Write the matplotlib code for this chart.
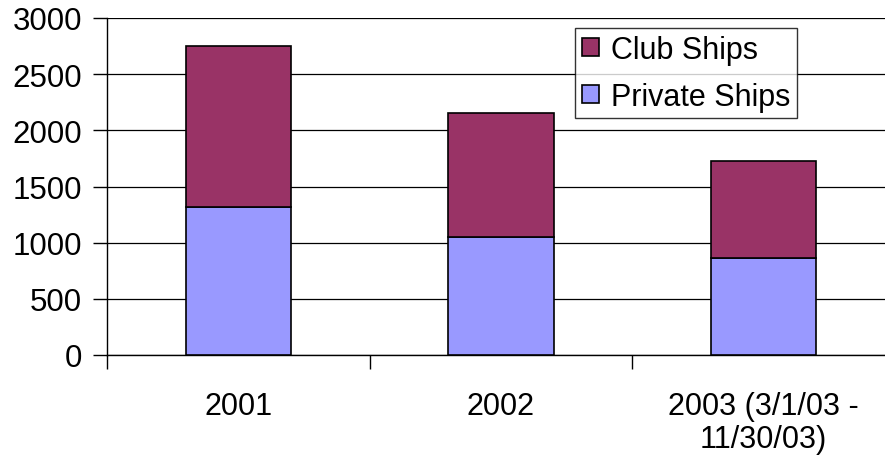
import matplotlib
matplotlib.use('Agg')
import matplotlib.pyplot as plt

plt.rcParams['font.family'] = ['Liberation Sans', 'DejaVu Sans']

categories = ['2001', '2002', '2003 (3/1/03 -\n11/30/03)']
private_ships = [1320, 1050, 860]
club_ships = [1435, 1100, 865]

x = list(range(len(categories)))

fig = plt.figure(figsize=(8.85, 4.6), dpi=100)
ax = fig.add_axes([107 / 885, 104 / 460, 788 / 885, 337 / 460])

ax.bar(x, private_ships, width=0.4, color='#9999FF', edgecolor='black',
       linewidth=1.2, label='Private Ships', zorder=3)
ax.bar(x, club_ships, width=0.4, bottom=private_ships, color='#993366',
       edgecolor='black', linewidth=1.2, label='Club Ships', zorder=3)

ax.set_xlim(-0.5, 2.5)
ax.set_ylim(0, 3000)
ax.set_yticks(range(0, 3001, 500))
ax.yaxis.grid(True, color='black', linewidth=0.9, zorder=0)

ax.set_xticks(x)
ax.set_xticklabels(categories, fontsize=22, linespacing=1.12)
ax.set_xticks([-0.5, 0.5, 1.5], minor=True)
ax.tick_params(axis='x', which='major', length=0, pad=26)
ax.tick_params(axis='x', which='minor', length=10, width=1, direction='out')
ax.tick_params(axis='y', length=10, width=1, labelsize=22.5, pad=8)

for side in ['top', 'right']:
    ax.spines[side].set_visible(False)
ax.spines['left'].set_linewidth(1)
ax.spines['bottom'].set_linewidth(1)

handles, labels = ax.get_legend_handles_labels()
leg = fig.legend(handles[::-1], labels[::-1], loc='upper left',
                 bbox_to_anchor=(575 / 885, 1 - 29 / 460), fontsize=22,
                 frameon=True, fancybox=False, borderaxespad=0,
                 handlelength=0.55, handleheight=0.55, handletextpad=0.4,
                 borderpad=0.22, labelspacing=0.55)
leg.get_frame().set_edgecolor('black')
leg.get_frame().set_linewidth(1)

fig.savefig('out.png', dpi=100)
